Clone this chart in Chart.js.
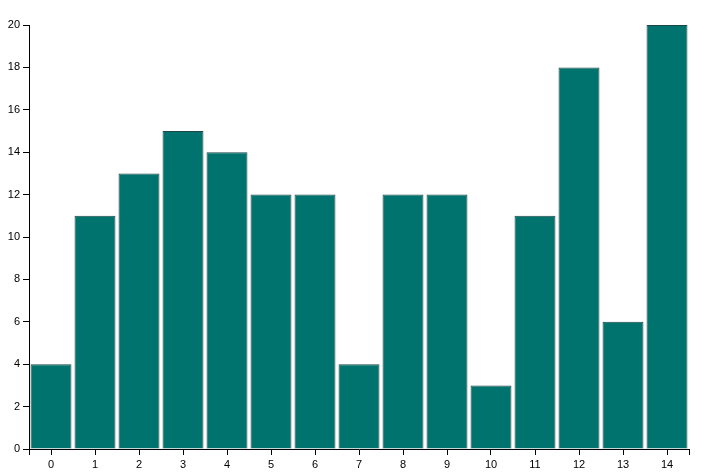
<!DOCTYPE html>
<html>
<head>
<meta charset="utf-8">
<style>
  html, body { margin: 0; padding: 0; background: #fff; }
  #wrap { width: 705px; height: 474px; }
</style>
<script src="https://cdn.jsdelivr.net/npm/chart.js@4/dist/chart.umd.min.js"></script>
</head>
<body>
<div id="wrap"><canvas id="barChart" width="705" height="474"></canvas></div>
<script>
// data
const categories = ['0','1','2','3','4','5','6','7','8','9','10','11','12','13','14'];
const values = [4, 11, 13, 15, 14, 12, 12, 4, 12, 12, 3, 11, 18, 6, 20];
const yTicks = [0, 2, 4, 6, 8, 10, 12, 14, 16, 18, 20];

// outer ticks at both ends of the x domain line (d3 style)
const outerTicks = {
  id: 'outerTicks',
  afterDraw(chart) {
    const { ctx, chartArea } = chart;
    ctx.save();
    ctx.strokeStyle = '#000';
    ctx.lineWidth = 1;
    ctx.beginPath();
    [chartArea.left, chartArea.right].forEach(x => {
      const px = Math.round(x) + 0.5;
      ctx.moveTo(px, chartArea.bottom);
      ctx.lineTo(px, chartArea.bottom + 6);
    });
    ctx.stroke();
    ctx.restore();
  }
};

const ctx = document.getElementById('barChart').getContext('2d');
new Chart(ctx, {
  type: 'bar',
  data: {
    labels: categories,
    datasets: [{
      data: values,
      backgroundColor: '#00736f',
      borderColor: '#1c4745',
      borderWidth: 1,
      barPercentage: 0.93,
      categoryPercentage: 1
    }]
  },
  options: {
    responsive: false,
    animation: false,
    layout: { padding: { top: 25, right: 16, left: 0, bottom: 0 } },
    plugins: {
      legend: { display: false },
      tooltip: { enabled: false }
    },
    scales: {
      x: {
        grid: { display: true, drawOnChartArea: false, offset: false, tickLength: 6, color: '#000' },
        border: { display: true, color: '#000' },
        ticks: {
          color: '#000',
          padding: 3,
          maxRotation: 0,
          font: { family: 'Liberation Sans, Arial, sans-serif', size: 11 }
        },
        afterFit(scale) { scale.height = 25; }
      },
      y: {
        min: 0,
        max: 20,
        afterBuildTicks(scale) { scale.ticks = yTicks.map(v => ({ value: v })); },
        grid: { display: true, drawOnChartArea: false, tickLength: 6, color: '#000' },
        border: { display: true, color: '#000' },
        ticks: {
          color: '#000',
          padding: 3,
          font: { family: 'Liberation Sans, Arial, sans-serif', size: 11 }
        },
        afterFit(scale) { scale.width = 29; }
      }
    }
  },
  plugins: [outerTicks]
});
</script>
</body>
</html>
